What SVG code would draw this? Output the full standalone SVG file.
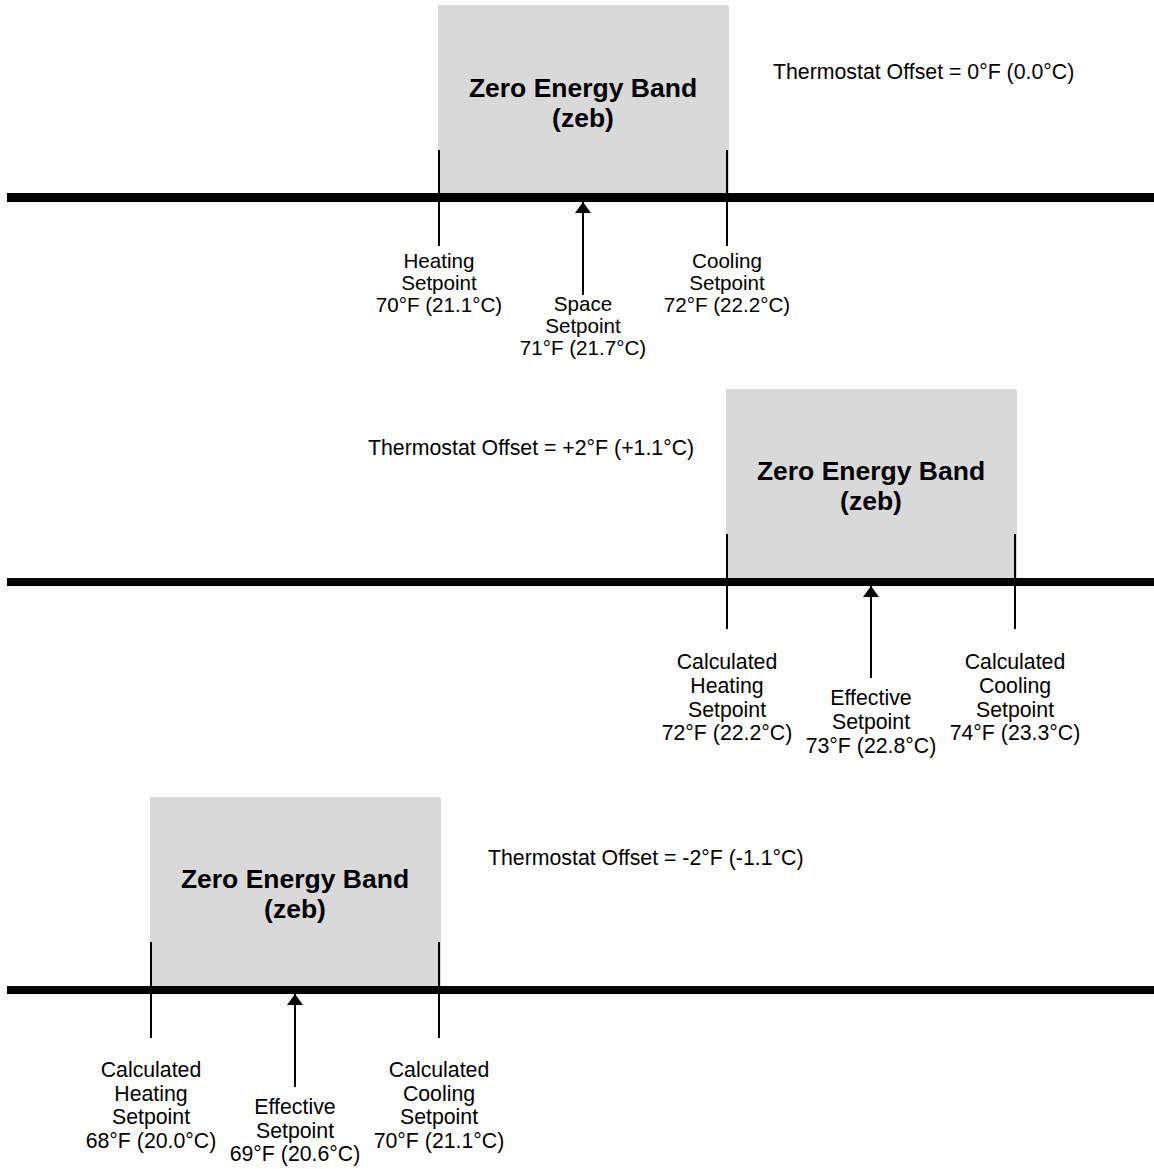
<svg xmlns="http://www.w3.org/2000/svg" width="1154" height="1169" viewBox="0 0 1154 1169">
<style>
.zeb{fill:#d9d9d9}
.bar{fill:#000}
.tick{stroke:#000;stroke-width:2;fill:none}
.arr{stroke:#000;stroke-width:2;fill:none;marker-end:url(#ah)}
.t{font-family:"Liberation Sans",Arial,sans-serif;font-size:21.3px;fill:#000;text-anchor:middle}
.t1{font-family:"Liberation Sans",Arial,sans-serif;font-size:20.6px;fill:#000;text-anchor:middle}
.tl{font-family:"Liberation Sans",Arial,sans-serif;font-size:21.3px;fill:#000}
.b{font-family:"Liberation Sans",Arial,sans-serif;font-size:26.5px;font-weight:bold;fill:#000;text-anchor:middle}
</style>
<defs>
<marker id="ah" markerWidth="5.5" markerHeight="8" refX="5.5" refY="4" orient="auto" markerUnits="strokeWidth">
<path d="M0,0 L5.5,4 L0,8 Z" fill="#000"/>
</marker>
</defs>
<rect width="1154" height="1169" fill="#fff"/>

<g id="panel1">
<g id="zeb1"><rect class="zeb" x="438" y="5" width="291" height="190"/>
<text class="b" x="583" y="97">Zero Energy Band<tspan x="583" dy="30">(zeb)</tspan></text></g>
<text id="offset1" class="tl" x="773" y="79">Thermostat Offset = 0°F (0.0°C)</text>
<text id="heat1" class="t1" x="439" y="268">Heating<tspan x="439" dy="22">Setpoint</tspan><tspan x="439" dy="22">70°F (21.1°C)</tspan></text>
<text id="space1" class="t1" x="583" y="311">Space<tspan x="583" dy="22">Setpoint</tspan><tspan x="583" dy="22">71°F (21.7°C)</tspan></text>
<text id="cool1" class="t1" x="727" y="268">Cooling<tspan x="727" dy="22">Setpoint</tspan><tspan x="727" dy="22">72°F (22.2°C)</tspan></text>
</g>

<g id="panel2">
<g id="zeb2"><rect class="zeb" x="726" y="389" width="291" height="191"/>
<text class="b" x="871" y="480">Zero Energy Band<tspan x="871" dy="30">(zeb)</tspan></text></g>
<text id="offset2" class="tl" x="368" y="455">Thermostat Offset = +2°F (+1.1°C)</text>
<text id="heat2" class="t" x="727" y="669">Calculated<tspan x="727" dy="24">Heating</tspan><tspan x="727" dy="24">Setpoint</tspan><tspan x="727" dy="23">72°F (22.2°C)</tspan></text>
<text id="eff2" class="t" x="871" y="705">Effective<tspan x="871" dy="24">Setpoint</tspan><tspan x="871" dy="24">73°F (22.8°C)</tspan></text>
<text id="cool2" class="t" x="1015" y="669">Calculated<tspan x="1015" dy="24">Cooling</tspan><tspan x="1015" dy="24">Setpoint</tspan><tspan x="1015" dy="23">74°F (23.3°C)</tspan></text>
</g>

<g id="panel3">
<g id="zeb3"><rect class="zeb" x="150" y="797" width="291" height="191"/>
<text class="b" x="295" y="888">Zero Energy Band<tspan x="295" dy="30">(zeb)</tspan></text></g>
<text id="offset3" class="tl" x="488" y="865">Thermostat Offset = -2°F (-1.1°C)</text>
<text id="heat3" class="t" x="151" y="1077">Calculated<tspan x="151" dy="24">Heating</tspan><tspan x="151" dy="23">Setpoint</tspan><tspan x="151" dy="24">68°F (20.0°C)</tspan></text>
<text id="eff3" class="t" x="295" y="1114">Effective<tspan x="295" dy="24">Setpoint</tspan><tspan x="295" dy="23">69°F (20.6°C)</tspan></text>
<text id="cool3" class="t" x="439" y="1077">Calculated<tspan x="439" dy="24">Cooling</tspan><tspan x="439" dy="23">Setpoint</tspan><tspan x="439" dy="24">70°F (21.1°C)</tspan></text>
</g>

<g id="connectors">
<rect class="bar" x="7" y="193" width="1147" height="9"/>
<rect class="bar" x="7" y="578" width="1147" height="8"/>
<rect class="bar" x="7" y="986" width="1147" height="8"/>
<line class="tick" x1="439" y1="150" x2="439" y2="246"/>
<line class="tick" x1="727" y1="150" x2="727" y2="246"/>
<line class="tick" x1="727" y1="534" x2="727" y2="629"/>
<line class="tick" x1="1015" y1="534" x2="1015" y2="629"/>
<line class="tick" x1="151" y1="942" x2="151" y2="1038"/>
<line class="tick" x1="439" y1="942" x2="439" y2="1038"/>
<line class="arr" x1="583" y1="295" x2="583" y2="202"/>
<line class="arr" x1="871" y1="678" x2="871" y2="586"/>
<line class="arr" x1="295" y1="1087" x2="295" y2="994"/>
</g>
</svg>
